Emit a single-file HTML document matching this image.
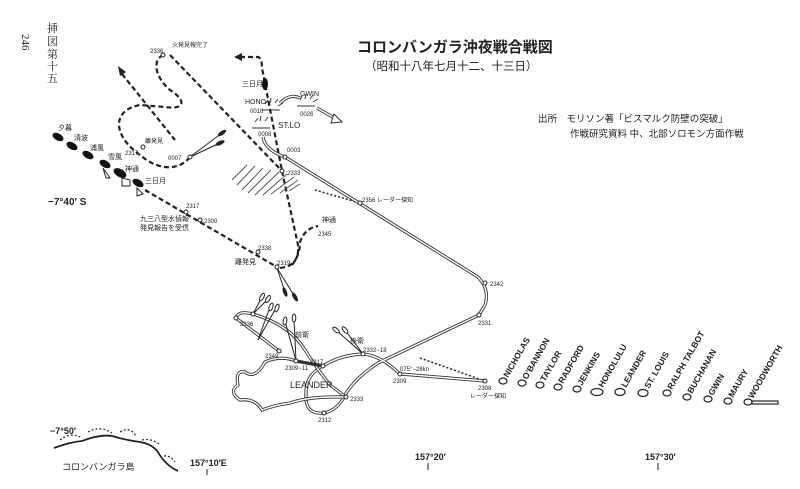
<!DOCTYPE html>
<html><head><meta charset="utf-8"><style>
html,body{margin:0;padding:0;background:#fff;}
svg{display:block;}
text{font-family:"Liberation Sans","Noto Sans CJK JP",sans-serif;fill:#222;}
.j{font-family:"Liberation Serif","Noto Serif CJK SC",serif;}
.s{font-size:6px;}
.d{fill:none;stroke:#222;stroke-width:2.2;stroke-dasharray:5,3;}
.dl{fill:none;stroke:#333;stroke-width:3.2;}
.dw{fill:none;stroke:#fff;stroke-width:1.4;}
.n{fill:#fff;stroke:#222;stroke-width:1;}
.sh{font-size:8.5px;font-weight:bold;}
</style></head><body>
<svg width="800" height="489" viewBox="0 0 800 489" xmlns="http://www.w3.org/2000/svg">
<rect width="800" height="489" fill="#fff"/>
<text x="22" y="34" font-size="11" transform="rotate(90 22 34)" class="j">246</text>
<text class="j" font-size="11" x="47" y="32">挿</text>
<text class="j" font-size="11" x="47" y="45">図</text>
<text class="j" font-size="11" x="47" y="58">第</text>
<text class="j" font-size="11" x="47" y="70">十</text>
<text class="j" font-size="11" x="47" y="82">五</text>
<text x="357" y="52" font-size="15" font-weight="bold">コロンバンガラ沖夜戦合戦図</text>
<text x="365" y="70" font-size="11.5">（昭和十八年七月十二、十三日）</text>
<text x="538" y="122" font-size="9.5">出所　モリソン著「ビスマルク防壁の突破」</text>
<text x="570" y="137" font-size="9.5">作戦研究資料 中、北部ソロモン方面作戦</text>

<!-- Japanese dashed tracks -->
<path class="d" d="M163,55 C150,62 158,80 170,90 C186,100 186,110 165,107 L140,105 C112,110 112,135 140,155 C160,172 180,170 190,157"/>
<path class="d" d="M170,55 L282,171"/>
<path class="d" d="M122,74 L175,140"/>
<path d="M118,66 L126,72 L120,76 Z" fill="#222"/>
<path class="d" d="M240,57 L258,57 Q262,58 262,68 L282,171"/>
<path d="M234,57 L242,53 L242,61 Z" fill="#222"/>
<path class="d" d="M282,171 L298,245 Q300,266 280,268"/>
<path class="d" d="M145,190 L277,267"/>
<path class="d" d="M292,265 Q300,255 300,242 Q305,228 318,226"/>
<line x1="190" y1="157" x2="222" y2="133" stroke="#222" stroke-width="1"/>
<line x1="190" y1="157" x2="220" y2="143" stroke="#222" stroke-width="1"/>
<ellipse cx="222" cy="133" rx="5" ry="2" transform="rotate(-35 222 133)" fill="#222"/>
<ellipse cx="220" cy="143" rx="5" ry="2" transform="rotate(-25 220 143)" fill="#222"/>
<line x1="277" y1="268" x2="285" y2="292" stroke="#222" stroke-width="1"/>
<line x1="277" y1="268" x2="295" y2="297" stroke="#222" stroke-width="1"/>
<ellipse cx="285" cy="292" rx="5" ry="2" transform="rotate(70 285 292)" fill="#222"/>
<ellipse cx="295" cy="297" rx="5" ry="2" transform="rotate(60 295 297)" fill="#222"/>
<!-- Japanese ships -->
<g fill="#111">
<ellipse cx="58" cy="137" rx="6" ry="3.5" transform="rotate(30 58 137)"/>
<ellipse cx="72" cy="146" rx="6" ry="3.5" transform="rotate(30 72 146)"/>
<ellipse cx="88" cy="155" rx="6" ry="3.5" transform="rotate(30 88 155)"/>
<ellipse cx="105" cy="164" rx="6" ry="3.5" transform="rotate(30 105 164)"/>
<ellipse cx="120" cy="173" rx="7" ry="4" transform="rotate(30 120 173)"/>
<ellipse cx="138" cy="183" rx="6" ry="3.5" transform="rotate(30 138 183)"/>
<ellipse cx="265" cy="84" rx="3" ry="6"/>
</g>
<path d="M103,168 L106,178 L110,178 Z M122,178 L122,186 L130,186 L130,180 Z M137,188 L137,196 L143,194 Z" fill="none" stroke="#222"/>
<g class="s">
<text x="58" y="130" font-size="7">夕暮</text><text x="74" y="140" font-size="7">清波</text>
<text x="90" y="150" font-size="7">浦風</text><text x="108" y="159" font-size="7">雪風</text>
<text x="125" y="171" font-size="7">神通</text><text x="145" y="183" font-size="7">三日月</text>
<text x="242" y="86" font-size="7">三日月</text><text x="322" y="222" font-size="7">神通</text>
<text x="145" y="143">離発見</text><text x="125" y="155">2317</text>
<text x="150" y="53">2336</text><text x="172" y="47">火発見報完了</text>
<text x="168" y="160">0007</text><text x="287" y="175">2333</text>
<text x="186" y="208">2317</text><text x="204" y="223">2300</text>
<text x="140" y="221" font-size="7">九三八型水偵報</text><text x="140" y="230" font-size="7">発見報告を受信</text>
<text x="258" y="250">2338</text><text x="235" y="264" font-size="7">離発見</text><text x="277" y="265">2319</text>
<text x="318" y="236">2345</text>
<text x="245" y="104" font-size="7">HONO</text><text x="250" y="113">0018</text>
<text x="300" y="96" font-size="7">GWIN</text><text x="300" y="116">0026</text>
<text x="278" y="128" font-size="8">ST.LO</text><text x="258" y="136">0008</text>
<text x="287" y="152">0003</text>
<text x="362" y="202">2356 レーダー探知</text>
</g>
<circle class="n" cx="163" cy="55" r="2"/><circle class="n" cx="143" cy="147" r="2"/><circle class="n" cx="190" cy="157" r="2"/>
<circle class="n" cx="186" cy="212" r="2"/><circle class="n" cx="200" cy="220" r="2"/><circle class="n" cx="258" cy="252" r="2"/>
<circle class="n" cx="277" cy="267" r="2"/><circle class="n" cx="282" cy="171" r="2"/>
<text x="48" y="205" font-size="10" font-weight="bold">−7°40′ S</text>
<!-- hatch -->
<g stroke="#555" stroke-width="1">
<line x1="232" y1="180" x2="247" y2="165"/><line x1="237" y1="185" x2="255" y2="166"/><line x1="242" y1="190" x2="263" y2="168"/>
<line x1="248" y1="193" x2="271" y2="170"/><line x1="255" y1="195" x2="279" y2="172"/><line x1="263" y1="195" x2="287" y2="174"/>
<line x1="271" y1="194" x2="294" y2="177"/><line x1="280" y1="193" x2="298" y2="180"/><line x1="289" y1="191" x2="300" y2="184"/>
</g>
<!-- explosions -->
<g stroke="#333" stroke-width="1" fill="none">
<path d="M262,110 L280,110 M265,104 L268,100 M270,103 L271,98 M275,103 L278,99 M278,106 L283,103"/>
<path d="M297,106 L315,106 M300,100 L302,96 M305,99 L306,94 M310,99 L313,95 M313,102 L318,99"/>
<path d="M252,128 L270,128 M255,122 L258,118 M260,121 L261,116 M265,121 L268,117"/>
</g>
<path d="M280,103 Q290,93 300,98" class="dl"/><path d="M280,103 Q290,93 300,98" class="dw"/>
<path d="M317,108 L336,119" class="dl" stroke-width="4"/><path d="M317,108 L336,119" class="dw" stroke-width="2"/>
<path d="M334,114 L342,122 L331,123 Z" fill="#fff" stroke="#333"/>
<!-- radar dashed lines -->
<path d="M315,190 L360,203" stroke="#222" stroke-width="1.5" stroke-dasharray="2,2"/>
<path d="M420,358 L482,380" stroke="#222" stroke-width="1.5" stroke-dasharray="2,2"/>
<!-- US double-line tracks -->
<g>
<path id="a" d="M263,137 Q265,150 285,157 L478,277 Q490,290 485,305 L479,315 L378,363 Q355,378 345,395 Q338,410 324,413 Q305,415 306,395 Q305,375 323,366 Q340,355 363,354 Q380,355 400,374 L485,381" class="dl"/>
<path d="M263,137 Q265,150 285,157 L478,277 Q490,290 485,305 L479,315 L378,363 Q355,378 345,395 Q338,410 324,413 Q305,415 306,395 Q305,375 323,366 Q340,355 363,354 Q380,355 400,374 L485,381" class="dw"/>
<path d="M279,351 L236,318 Q238,310 253,314 Q290,325 305,350 Q318,370 330,385 L346,397" class="dl"/>
<path d="M279,351 L236,318 Q238,310 253,314 Q290,325 305,350 Q318,370 330,385 L346,397" class="dw"/>
<path d="M296,361 Q280,355 265,362 Q255,380 245,372 Q235,370 238,385 Q228,392 240,400 Q255,398 262,410 Q275,405 290,403 Q310,396 346,397" class="dl"/>
<path d="M296,361 Q280,355 265,362 Q255,380 245,372 Q235,370 238,385 Q228,392 240,400 Q255,398 262,410 Q275,405 290,403 Q310,396 346,397" class="dw"/>
<path d="M296,361 L323,366" class="dl" stroke-width="1.5"/>
</g>
<g stroke="#222" stroke-width="1">
<line x1="253" y1="314" x2="262" y2="297"/><line x1="253" y1="314" x2="268" y2="299"/>
<line x1="258" y1="340" x2="270" y2="307"/><line x1="258" y1="340" x2="276" y2="308"/>
<line x1="296" y1="361" x2="285" y2="321"/><line x1="296" y1="361" x2="294" y2="318"/>
<line x1="363" y1="354" x2="336" y2="330"/><line x1="363" y1="354" x2="345" y2="330"/>
</g>
<g fill="#fff" stroke="#222">
<ellipse cx="262" cy="297" rx="4" ry="1.8" transform="rotate(-60 262 297)"/><ellipse cx="268" cy="299" rx="4" ry="1.8" transform="rotate(-60 268 299)"/>
<ellipse cx="271" cy="307" rx="4" ry="1.8" transform="rotate(-70 271 307)"/><ellipse cx="277" cy="308" rx="4" ry="1.8" transform="rotate(-70 277 308)"/>
<ellipse cx="285" cy="321" rx="4" ry="1.8" transform="rotate(-80 285 321)"/><ellipse cx="294" cy="318" rx="4" ry="1.8" transform="rotate(-90 294 318)"/>
<ellipse cx="336" cy="330" rx="4" ry="1.8" transform="rotate(40 336 330)"/><ellipse cx="345" cy="330" rx="4" ry="1.8" transform="rotate(50 345 330)"/>
</g>
<g>
<circle class="n" cx="485" cy="283" r="2"/><circle class="n" cx="479" cy="315" r="2"/><circle class="n" cx="360" cy="203" r="2"/>
<circle class="n" cx="253" cy="314" r="2"/><circle class="n" cx="236" cy="318" r="2"/><circle class="n" cx="279" cy="351" r="2"/>
<circle class="n" cx="296" cy="361" r="2"/><circle class="n" cx="323" cy="366" r="2"/><circle class="n" cx="363" cy="354" r="2"/>
<circle class="n" cx="400" cy="374" r="2"/><circle class="n" cx="485" cy="381" r="2"/><circle class="n" cx="346" cy="397" r="2"/>
<circle class="n" cx="324" cy="413" r="2"/><circle class="n" cx="285" cy="157" r="2"/>
</g>
<g class="s">
<text x="490" y="286">2342</text><text x="478" y="325">2331</text>
<text x="240" y="326">2336</text><text x="265" y="358">2349</text><text x="295" y="337" font-size="7">前衛</text>
<text x="285" y="370">2309−11</text><text x="310" y="364">2317</text>
<text x="350" y="343" font-size="7">後衛</text><text x="363" y="352">2332−18</text>
<text x="393" y="383">2309</text><text x="400" y="371">075°−28kn</text>
<text x="478" y="390">2308</text><text x="470" y="398">レーダー探知</text>
<text x="350" y="401">2333</text><text x="318" y="422">2312</text>
<text x="290" y="388" font-size="9">LEANDER</text>
</g>
<!-- US ships -->
<g fill="#fff" stroke="#222" stroke-width="1.2">
<ellipse cx="503" cy="381" rx="4" ry="3"/><ellipse cx="522" cy="383" rx="4" ry="3"/><ellipse cx="540" cy="385" rx="4" ry="3"/>
<ellipse cx="558" cy="387" rx="4" ry="3"/><ellipse cx="577" cy="389" rx="4" ry="3"/><ellipse cx="597" cy="392" rx="6" ry="3.5"/>
<ellipse cx="620" cy="392" rx="5" ry="3.5"/><ellipse cx="643" cy="393" rx="5" ry="3.5"/><ellipse cx="667" cy="393" rx="4" ry="3"/>
<ellipse cx="687" cy="397" rx="4" ry="3"/><ellipse cx="708" cy="399" rx="4" ry="3"/><ellipse cx="728" cy="401" rx="4" ry="3"/>
<ellipse cx="748" cy="402" rx="4" ry="3"/><rect x="752" y="401" width="26" height="3"/>
</g>
<g class="sh">
<text transform="translate(508,378) rotate(-60)">NICHOLAS</text>
<text transform="translate(527,380) rotate(-60)">O'BANNON</text>
<text transform="translate(545,382) rotate(-60)">TAYLOR</text>
<text transform="translate(563,384) rotate(-60)">RADFORD</text>
<text transform="translate(582,386) rotate(-60)">JENKINS</text>
<text transform="translate(603,388) rotate(-60)">HONOLULU</text>
<text transform="translate(626,388) rotate(-60)">LEANDER</text>
<text transform="translate(649,389) rotate(-60)">ST. LOUIS</text>
<text transform="translate(672,390) rotate(-60)">RALPH TALBOT</text>
<text transform="translate(692,394) rotate(-60)">BUCHANAN</text>
<text transform="translate(713,396) rotate(-60)">GWIN</text>
<text transform="translate(733,398) rotate(-60)">MAURY</text>
<text transform="translate(753,399) rotate(-60)">WOODWORTH</text>
</g>
<!-- coastline bottom left -->
<path d="M54,448 Q70,442 82,441 Q100,434 112,436 Q125,440 140,442 Q152,444 158,452 Q165,465 178,471" fill="none" stroke="#222" stroke-width="1.8"/>
<path d="M60,440 Q70,432 80,437 M88,432 Q100,425 112,433 M120,432 Q130,426 136,436 M142,440 Q152,438 160,445 M164,456 Q170,455 175,462" fill="none" stroke="#222" stroke-width="1.2" stroke-dasharray="2,2"/>
<text x="50" y="434" font-size="9" font-weight="bold">−7°50′</text>
<text x="62" y="470" font-size="9">コロンバンガラ島</text>
<text x="190" y="466" font-size="9" font-weight="bold">157°10′E</text><line x1="207" y1="469" x2="207" y2="475" stroke="#222"/>
<text x="415" y="460" font-size="9" font-weight="bold">157°20′</text><line x1="428" y1="463" x2="428" y2="470" stroke="#222"/>
<text x="645" y="460" font-size="9" font-weight="bold">157°30′</text><line x1="658" y1="463" x2="658" y2="470" stroke="#222"/>
</svg>
</body></html>
